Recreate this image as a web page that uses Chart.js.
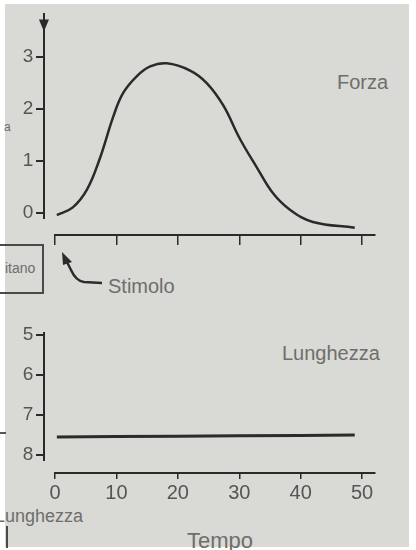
<!DOCTYPE html>
<html>
<head>
<meta charset="utf-8">
<script src="https://cdn.jsdelivr.net/npm/chart.js@4.4.1/dist/chart.umd.min.js"></script>
<style>
  html, body { margin: 0; padding: 0; background: #fff; }
  #page { position: relative; width: 416px; height: 550px; overflow: hidden; background: #fff; }
  #paper { position: absolute; left: 5px; top: 4px; width: 404px; height: 543px; background: #d9d9d5; }
  canvas { position: absolute; left: 0; }
  .lbl { position: absolute; font-family: "Liberation Sans", Arial, sans-serif; color: #6e6e6c; white-space: nowrap; line-height: 1; }
</style>
</head>
<body>
<div id="page">
  <div id="paper"></div>

  <div class="lbl" style="left:337px; top:72px; font-size:20px;">Forza</div>
  <div class="lbl" style="left:282px; top:343px; font-size:20px;">Lunghezza</div>
  <div class="lbl" style="left:108px; top:276px; font-size:20px;">Stimolo</div>
  <div class="lbl" style="left:187px; top:530px; font-size:22px;">Tempo</div>
  <div class="lbl" style="left:-5px; top:507px; font-size:18px;">Lunghezza</div>
  <div class="lbl" style="left:4px; top:121px; font-size:12px;">a</div>

  <!-- box cut at the left edge -->
  <div style="position:absolute; left:-4px; top:244px; width:44px; height:46px; border:2px solid #4a4a48;"></div>
  <div class="lbl" style="left:5px; top:261px; font-size:14px;">itano</div>
  <div style="position:absolute; left:6px; top:526px; width:2px; height:22px; background:#4a4a48;"></div>
  <div style="position:absolute; left:0px; top:432px; width:6px; height:2px; background:#555;"></div>

  <svg style="position:absolute; left:0; top:0;" width="416" height="550">
    <path d="M102 283 L84 282 Q76 281 71 270 L66 260" fill="none" stroke="#2c2c2a" stroke-width="2.5"/>
    <polygon points="62,252 72,262 63,265" fill="#2c2c2a"/>
  </svg>

  <canvas id="forza" width="416" height="250" style="top:0;"></canvas>
  <canvas id="lunghezza" width="416" height="250" style="top:300px;"></canvas>
</div>

<script>
// Time (x) for both panels
const timeTicks = [0, 10, 20, 30, 40, 50]

// Forza panel
const forceTicks = [0, 1, 2, 3]
const forceTime = [0.3, 2.9, 5.2, 7.3, 9.5, 11.1, 13.3, 15.5, 18.2, 22, 24.7, 27.4, 30.1, 32.9, 35.5, 38.3, 42, 48.8]
const forceValue = [-0.04, 0.11, 0.45, 1.05, 1.86, 2.31, 2.63, 2.82, 2.88, 2.74, 2.5, 2.07, 1.43, 0.87, 0.38, 0.06, -0.17, -0.28]

// Lunghezza panel
const lengthTicks = [5, 6, 7, 8]
const lengthTime = [0.3, 10, 20, 30, 40, 48.8]
const lengthValue = [7.55, 7.54, 7.53, 7.52, 7.51, 7.5]

const INK = "#2a2a28"
const TICK_TEXT = "#555553"
const FONT = "'Liberation Sans', Arial, sans-serif"

function toPoints(xs, ys) {
  return xs.map((x, i) => ({ x: x, y: ys[i] }))
}

// y labels sit right on the axis when it is placed by value, so push them
// left with a figure space to leave room for the tick mark
const yLabel = v => v + "\u2007"

// small down-pointing arrowhead at the top of the force axis
const axisArrow = {
  id: "axisArrow",
  afterDraw(chart) {
    const ctx = chart.ctx
    const x = chart.scales.x.getPixelForValue(-1.8)
    const y = chart.chartArea.top + 13
    ctx.save()
    ctx.fillStyle = INK
    ctx.beginPath()
    ctx.moveTo(x - 5, y - 8)
    ctx.lineTo(x + 5, y - 8)
    ctx.lineTo(x, y + 4)
    ctx.closePath()
    ctx.fill()
    ctx.restore()
  }
}

const common = {
  responsive: false,
  animation: false,
  events: [],
  plugins: {
    legend: { display: false },
    tooltip: { enabled: false }
  }
}

new Chart(document.getElementById("forza"), {
  type: "line",
  data: {
    datasets: [
      {
        data: toPoints(forceTime, forceValue),
        borderColor: INK,
        borderWidth: 2.5,
        pointRadius: 0,
        fill: false,
        tension: 0.4,
        clip: false
      }
    ]
  },
  options: {
    ...common,
    layout: { padding: { left: 55, right: 41, top: 0, bottom: 32 } },
    scales: {
      x: {
        type: "linear",
        min: 0,
        max: 52.1,
        position: { y: -0.43 },
        afterBuildTicks: s => { s.ticks = timeTicks.map(v => ({ value: v })) },
        ticks: { display: false },
        grid: { drawOnChartArea: false, tickLength: 9, color: INK, lineWidth: 1.5 },
        border: { color: INK, width: 2 }
      },
      y: {
        type: "linear",
        min: -0.094,
        max: 3.82,
        position: { x: -1.8 },
        afterBuildTicks: s => { s.ticks = forceTicks.map(v => ({ value: v })) },
        ticks: { color: TICK_TEXT, font: { family: FONT, size: 19 }, callback: yLabel },
        grid: { drawOnChartArea: false, tickLength: 7, color: INK, lineWidth: 2 },
        border: { color: INK, width: 2 }
      }
    }
  },
  plugins: [axisArrow]
})

new Chart(document.getElementById("lunghezza"), {
  type: "line",
  data: {
    datasets: [
      {
        data: toPoints(lengthTime, lengthValue),
        borderColor: INK,
        borderWidth: 3,
        pointRadius: 0,
        fill: false,
        clip: false
      }
    ]
  },
  options: {
    ...common,
    layout: { padding: { left: 55, right: 41, top: 33, bottom: 90 } },
    scales: {
      x: {
        type: "linear",
        min: 0,
        max: 52.1,
        position: { y: 8.45 },
        afterBuildTicks: s => { s.ticks = timeTicks.map(v => ({ value: v })) },
        ticks: { color: TICK_TEXT, font: { family: FONT, size: 20 }, padding: 3 },
        grid: { drawOnChartArea: false, tickLength: 5, color: INK, lineWidth: 1.5 },
        border: { color: INK, width: 2 }
      },
      y: {
        type: "linear",
        reverse: true,
        min: 4.95,
        max: 8.125,
        position: { x: -1.8 },
        afterBuildTicks: s => { s.ticks = lengthTicks.map(v => ({ value: v })) },
        ticks: { color: TICK_TEXT, font: { family: FONT, size: 19 }, callback: yLabel },
        grid: { drawOnChartArea: false, tickLength: 7, color: INK, lineWidth: 2 },
        border: { color: INK, width: 2 }
      }
    }
  }
})
</script>
</body>
</html>
